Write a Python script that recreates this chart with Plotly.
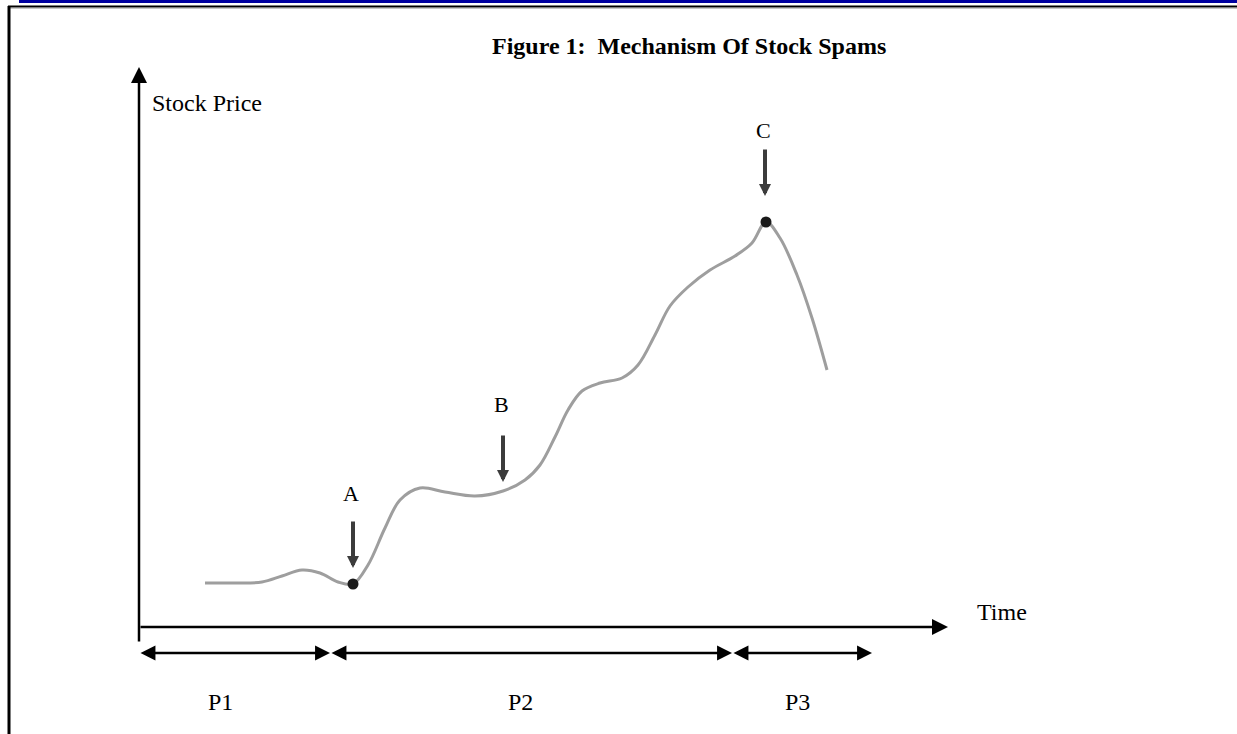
import plotly.graph_objects as go

# ---- data (time units, price units) ----
curve_time = [6.6, 9.6, 12.3, 14.3, 16.3, 18.1, 19.9, 21.4, 22.9, 24.6, 26.1, 28.1, 30.6,
              33.6, 36.4, 38.6, 40.1, 41.6, 42.9, 44.3, 46.1, 48.3, 49.9, 51.6, 53.1,
              54.9, 57.1, 59.6, 61.3, 62.7, 64.1, 65.8, 67.3, 68.8]
curve_price = [4.4, 4.4, 4.5, 5.1, 5.7, 5.4, 4.5, 4.3, 6.2, 9.9, 12.7, 13.9, 13.5,
               13.1, 13.6, 14.7, 16.2, 19.0, 21.7, 23.6, 24.4, 24.9, 26.2, 29.2, 32.1,
               34.0, 35.7, 37.1, 38.4, 40.5, 38.9, 35.2, 30.9, 25.7]

dot_time = [21.4, 62.7]
dot_price = [4.3, 40.5]

point_labels = ["A", "B", "C"]
point_time = [21.4, 36.4, 62.6]
point_tip = [5.9, 14.5, 43.1]
point_label_price = [13.4, 22.3, 49.7]

period_labels = ["P1", "P2", "P3"]
period_bounds = [0.0, 19.1, 59.3, 73.3]
period_label_time = [8.1, 38.1, 65.8]

title_text = "<b>Figure 1:\u00a0\u00a0Mechanism Of Stock Spams</b>"
y_label = "Stock Price"
x_label = "Time"

FONT = "Liberation Serif, Times New Roman, serif"
W, H = 1237, 734
XR = [-13.9, 109.8]
YR = [-10.7, 62.7]

fig = go.Figure()
fig.add_trace(go.Scatter(x=curve_time, y=curve_price, mode="lines",
                         line=dict(color="rgb(158,158,158)", width=3, shape="spline", smoothing=1.0),
                         hoverinfo="skip"))
fig.add_trace(go.Scatter(x=dot_time, y=dot_price, mode="markers",
                         marker=dict(color="#1a1a1a", size=11), hoverinfo="skip"))

ann = []
# axes with arrowheads
ann.append(dict(x=0, y=56.0, ax=0, ay=-1.6, axref="x", ayref="y", xref="x", yref="y",
                text="", showarrow=True, arrowhead=2, arrowsize=1.28, arrowwidth=2.5,
                arrowcolor="black", standoff=0))
ann.append(dict(x=80.9, y=0, ax=0, ay=0, axref="x", ayref="y", xref="x", yref="y",
                text="", showarrow=True, arrowhead=2, arrowsize=1.28, arrowwidth=2.5,
                arrowcolor="black", standoff=0))
# period double arrows
for i, lab in enumerate(period_labels):
    ann.append(dict(x=period_bounds[i + 1], y=-2.6, ax=period_bounds[i], ay=-2.6,
                    axref="x", ayref="y", xref="x", yref="y", text="", showarrow=True,
                    arrowside="end+start", arrowhead=2, startarrowhead=2,
                    arrowsize=1.3, startarrowsize=1.3, arrowwidth=2.3,
                    arrowcolor="black", standoff=0, startstandoff=0))
    ann.append(dict(x=period_label_time[i], y=-7.5, xref="x", yref="y", text=lab,
                    showarrow=False, font=dict(family=FONT, size=24, color="black")))
# point arrows and labels
for i, lab in enumerate(point_labels):
    ann.append(dict(x=point_time[i], y=point_tip[i], ax=point_time[i], ay=point_tip[i] + 4.8,
                    axref="x", ayref="y", xref="x", yref="y", text="", showarrow=True,
                    arrowhead=2, arrowsize=0.6, arrowwidth=4, arrowcolor="#3c3c3c", standoff=0))
    ann.append(dict(x=point_time[i] - 0.2, y=point_label_price[i], xref="x", yref="y", text=lab,
                    showarrow=False, font=dict(family=FONT, size=22, color="black")))
# texts
ann.append(dict(x=55.0, y=58.1, xref="x", yref="y", text=title_text, showarrow=False,
                font=dict(family=FONT, size=24, color="black")))
ann.append(dict(x=1.1, y=52.4, xref="x", yref="y", text=y_label, showarrow=False,
                xanchor="left", font=dict(family=FONT, size=24, color="black")))
ann.append(dict(x=86.3, y=1.5, xref="x", yref="y", text=x_label, showarrow=False,
                font=dict(family=FONT, size=24, color="black")))

shapes = [
    dict(type="rect", xref="paper", yref="paper", x0=19 / W, x1=1, y0=1 - 3 / H, y1=1,
         fillcolor="rgb(0,0,160)", line=dict(width=0)),
    dict(type="line", xref="paper", yref="paper", x0=8 / W, x1=1, y0=1 - 6.5 / H, y1=1 - 6.5 / H,
         line=dict(color="black", width=2)),
    dict(type="line", xref="paper", yref="paper", x0=8 / W, x1=1, y0=1 - 8.5 / H, y1=1 - 8.5 / H,
         line=dict(color="rgb(200,200,200)", width=1)),
    dict(type="line", xref="paper", yref="paper", x0=9 / W, x1=9 / W, y0=1 - 6 / H, y1=0,
         line=dict(color="black", width=3)),
]

fig.update_layout(width=W, height=H, margin=dict(l=0, r=0, t=0, b=0),
                  paper_bgcolor="white", plot_bgcolor="white", showlegend=False,
                  annotations=ann, shapes=shapes,
                  xaxis=dict(range=XR, visible=False, fixedrange=True),
                  yaxis=dict(range=YR, visible=False, fixedrange=True))
fig.write_html("out.html", config={"displayModeBar": False},
               post_script="document.body.style.margin='0px';document.body.style.overflow='hidden';")
